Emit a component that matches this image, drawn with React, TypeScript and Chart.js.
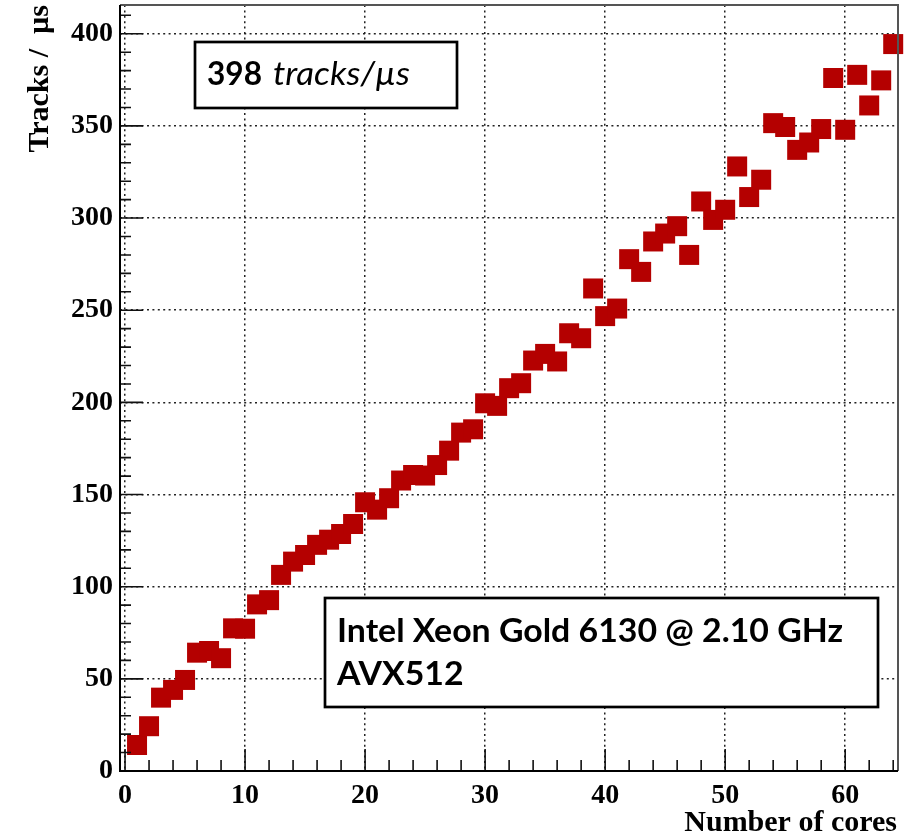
import React, { useEffect, useRef } from 'react';
import { Chart, registerables } from 'chart.js';

Chart.register(...registerables);

const coreCounts = [
  1, 2, 3, 4, 5, 6, 7, 8, 9, 10, 11, 12, 13, 14, 15, 16,
  17, 18, 19, 20, 21, 22, 23, 24, 25, 26, 27, 28, 29, 30, 31, 32,
  33, 34, 35, 36, 37, 38, 39, 40, 41, 42, 43, 44, 45, 46, 47, 48,
  49, 50, 51, 52, 53, 54, 55, 56, 57, 58, 59, 60, 61, 62, 63, 64,
];
const tracksPerUs = [
  14.1, 24.3, 39.8, 44.0, 49.4, 64.2, 65.1, 61.2, 77.4, 77.2, 90.4, 92.7, 106.4, 113.6, 117.2, 122.7,
  125.5, 128.6, 134.0, 145.8, 141.8, 148.0, 157.6, 160.6, 160.3, 166.0, 173.8, 183.6, 185.4, 199.5, 198.1, 207.7,
  210.4, 222.7, 226.3, 222.2, 237.5, 234.8, 261.8, 246.8, 250.9, 277.7, 270.8, 287.3, 291.6, 295.6, 280.0, 309.0,
  299.0, 304.5, 328.0, 311.4, 320.8, 351.5, 349.4, 337.0, 341.0, 348.3, 376.0, 347.9, 377.7, 361.1, 374.7, 394.4,
];
const xTickValues = [0, 10, 20, 30, 40, 50, 60];
const yTickValues = [0, 50, 100, 150, 200, 250, 300, 350, 400];
const xAxisTitle = 'Number of cores';
const yAxisTitle = 'Tracks /  \u00b5s';
const rateValue = '398';
const rateUnit = 'tracks/\u00b5s';
const cpuLines = ['Intel Xeon Gold 6130 @ 2.10 GHz', 'AVX512'];

const SERIF = "'Liberation Serif', 'Times New Roman', serif";
const SANS = "Lato, 'Open Sans', 'DejaVu Sans', sans-serif";
const MARKER = '#b40000';
const GRID_DASH = [2, 3.4];

function drawFitted(
  ctx: CanvasRenderingContext2D,
  text: string,
  style: string,
  size: number,
  x0: number,
  y: number,
  target: number,
) {
  ctx.font = `${style} ${size}px ${SANS}`;
  const w = ctx.measureText(text).width;
  const sx = target / w;
  ctx.save();
  ctx.translate(x0, y);
  ctx.scale(sx, 1);
  ctx.fillText(text, 0, 0);
  ctx.restore();
  return sx;
}

const rootPlugin = {
  id: 'rootStyle',
  afterDatasetsDraw(chart: any) {
    const { ctx, chartArea: a, scales } = chart;
    const xs = scales.x;
    const ys = scales.y;
    ctx.save();

    // inside ticks
    ctx.strokeStyle = '#111';
    ctx.lineWidth = 1.6;
    ctx.setLineDash([]);
    ctx.beginPath();
    for (let v = 0; v <= 64; v += 2) {
      const px = xs.getPixelForValue(v);
      const len = v % 10 === 0 ? 22 : 11;
      ctx.moveTo(px, a.bottom);
      ctx.lineTo(px, a.bottom - len);
    }
    for (let v = 0; v <= 410; v += 10) {
      const py = ys.getPixelForValue(v);
      const len = v % 50 === 0 ? 23 : 11;
      ctx.moveTo(a.left, py);
      ctx.lineTo(a.left + len, py);
    }
    ctx.stroke();

    // frame
    ctx.lineWidth = 2;
    ctx.strokeStyle = '#555';
    ctx.beginPath();
    ctx.moveTo(a.left, a.top);
    ctx.lineTo(a.right, a.top);
    ctx.lineTo(a.right, a.bottom);
    ctx.stroke();
    ctx.strokeStyle = '#000';
    ctx.beginPath();
    ctx.moveTo(a.left, a.top);
    ctx.lineTo(a.left, a.bottom);
    ctx.lineTo(a.right, a.bottom);
    ctx.stroke();

    // box 1
    ctx.fillStyle = '#fff';
    ctx.fillRect(195, 42, 262, 66);
    ctx.lineWidth = 2.7;
    ctx.strokeStyle = '#000';
    ctx.strokeRect(195, 42, 262, 66);
    ctx.fillStyle = '#000';
    ctx.textBaseline = 'alphabetic';
    ctx.textAlign = 'left';
    drawFitted(ctx, rateValue, 'bold', 32, 207, 85, 55);
    drawFitted(ctx, rateUnit, 'italic', 32, 273, 85, 137);

    // box 2
    ctx.fillStyle = '#fff';
    ctx.fillRect(325, 598, 553, 109);
    ctx.strokeRect(325, 598, 553, 109);
    ctx.fillStyle = '#000';
    const sx = drawFitted(ctx, cpuLines[0], 'bold', 33, 337, 642, 506);
    ctx.save();
    ctx.translate(337, 685);
    ctx.scale(sx, 1);
    ctx.font = `bold 33px ${SANS}`;
    ctx.fillText(cpuLines[1], 0, 0);
    ctx.restore();

    // axis titles
    ctx.font = `bold 30px ${SERIF}`;
    ctx.textAlign = 'right';
    ctx.fillText(xAxisTitle, 897, 831);
    ctx.translate(48, 5);
    ctx.rotate(-Math.PI / 2);
    ctx.fillText(yAxisTitle, 0, 0);

    ctx.restore();
  },
};

export default function App() {
  const ref = useRef<HTMLCanvasElement | null>(null);
  useEffect(() => {
    if (!ref.current) return;
    const chart = new Chart(ref.current, {
      type: 'scatter',
      data: {
        datasets: [
          {
            label: 'tracks',
            data: coreCounts.map((c, i) => ({ x: c, y: tracksPerUs[i] })),
            backgroundColor: MARKER,
            borderColor: MARKER,
            borderWidth: 0,
            pointStyle: 'rect',
            pointRadius: 14.14,
            pointHoverRadius: 14.14,
            clip: false,
          } as any,
        ],
      },
      options: {
        animation: false,
        responsive: false,
        devicePixelRatio: 1,
        layout: { autoPadding: false, padding: { top: 5, right: 17, left: 0, bottom: 0 } },
        plugins: { legend: { display: false }, tooltip: { enabled: false } },
        scales: {
          x: {
            type: 'linear',
            min: -0.42,
            max: 64.4,
            afterBuildTicks: (s: any) => {
              s.ticks = xTickValues.map((v) => ({ value: v }));
            },
            afterFit: (s: any) => {
              s.height = 68;
              s.paddingLeft = 0;
              s.paddingRight = 0;
            },
            grid: { color: '#222', lineWidth: 1.5, drawTicks: false, borderDash: GRID_DASH } as any,
            border: { display: false, dash: GRID_DASH },
            ticks: {
              font: { family: SERIF, size: 28, weight: 'bold' },
              color: '#000',
              padding: 8,
              maxRotation: 0,
              autoSkip: false,
            },
          },
          y: {
            type: 'linear',
            min: 0,
            max: 415.6,
            afterBuildTicks: (s: any) => {
              s.ticks = yTickValues.map((v) => ({ value: v }));
            },
            afterFit: (s: any) => {
              s.width = 120;
              s.paddingTop = 0;
              s.paddingBottom = 0;
            },
            grid: { color: '#222', lineWidth: 1.5, drawTicks: false, borderDash: GRID_DASH } as any,
            border: { display: false, dash: GRID_DASH },
            ticks: {
              font: { family: SERIF, size: 28, weight: 'bold' },
              color: '#000',
              padding: 7,
              autoSkip: false,
            },
          },
        },
      },
      plugins: [rootPlugin],
    });
    return () => chart.destroy();
  }, []);
  return (
    <div style={{ position: 'fixed', left: 0, top: 0, width: 915, height: 839, background: '#fff' }}>
      <canvas ref={ref} width={915} height={839} style={{ display: 'block' }} />
    </div>
  );
}
